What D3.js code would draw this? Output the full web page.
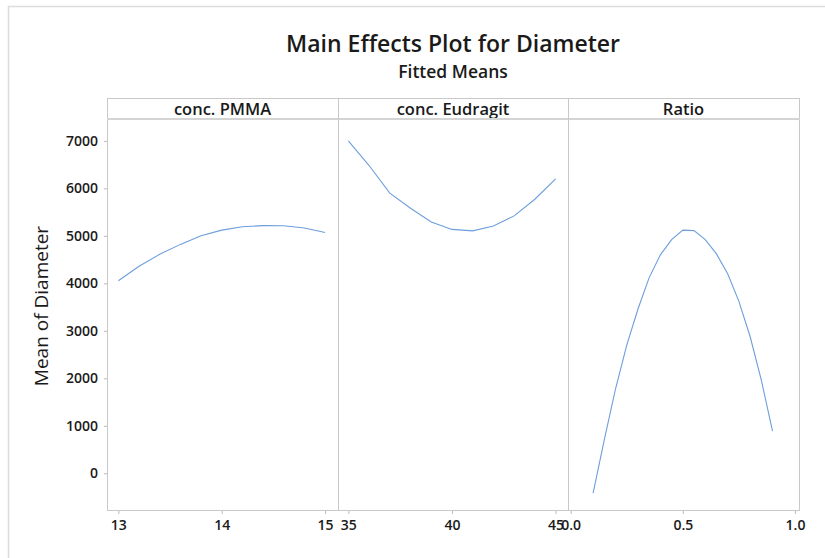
<!DOCTYPE html>
<html>
<head>
<meta charset="utf-8">
<script src="https://cdn.jsdelivr.net/npm/d3@7"></script>
<style>
  body { margin: 0; background: #fff; }
  text { font-family: "Open Sans", "Noto Sans", sans-serif; fill: #1a1a1a; }
</style>
</head>
<body>
<div id="chart"></div>
<script>
// factor names (one panel each)
const factors = ["conc. PMMA", "conc. Eudragit", "Ratio"];

// fitted means
const pmmaX = [13, 13.2, 13.4, 13.6, 13.8, 14, 14.2, 14.4, 14.6, 14.8, 15];
const pmmaY = [4055, 4360, 4610, 4820, 5000, 5120, 5190, 5215, 5213, 5165, 5070];

const eudX = [35, 36, 37, 38, 39, 40, 41, 42, 43, 44, 45];
const eudY = [7000, 6480, 5900, 5580, 5290, 5135, 5105, 5205, 5420, 5770, 6200];

const ratioX = [0.1, 0.15, 0.2, 0.25, 0.3, 0.35, 0.4, 0.45, 0.5, 0.55, 0.6, 0.65, 0.7, 0.75, 0.8, 0.85, 0.9];
const ratioY = [-420, 710, 1780, 2700, 3460, 4120, 4600, 4920, 5120, 5110, 4920, 4620, 4200, 3620, 2880, 1960, 890];

// tick labels
const yTicks = [0, 1000, 2000, 3000, 4000, 5000, 6000, 7000];
const pmmaTicks = [13, 14, 15];
const eudTicks = [35, 40, 45];
const ratioTicks = [0, 0.5, 1.0];

// set the dimensions of the graph
var W = 825, H = 558;
var left = 107, right = 799, stripTop = 98, plotTop = 119, plotBottom = 510;
var panelEdges = [107, 338, 568, 799];

const svg = d3.select("#chart")
.append("svg")
.attr("width", W)
.attr("height", H);

// outer frame
svg.append("path")
.attr("d", `M8.5,${H} V6.5 H${W}`)
.attr("fill", "none")
.attr("stroke", "#dcdcdc")
.attr("stroke-width", 1.5);

// titles
svg.append("text")
.attr("x", 453).attr("y", 52)
.attr("text-anchor", "middle")
.style("font-size", "23px").style("font-weight", 600)
.text("Main Effects Plot for Diameter");
svg.append("text")
.attr("x", 453).attr("y", 78)
.attr("text-anchor", "middle")
.style("font-size", "17.5px").style("font-weight", 600)
.text("Fitted Means");

// Y scale shared by all panels
const y = d3.scaleLinear()
.domain([-773, 7460])
.range([plotBottom, plotTop]);

svg.append("g")
.attr("transform", `translate(${left}, 0)`)
.call(d3.axisLeft(y).tickValues(yTicks).tickSize(3).tickPadding(6).tickFormat(d3.format("d")))
.call(g => g.select(".domain").remove())
.call(g => g.selectAll(".tick line").attr("stroke", "#bbb"))
.call(g => g.selectAll(".tick text").style("font-size", "14px").style("font-weight", 600).attr("fill", "#1a1a1a"));

// y axis title
svg.append("text")
.attr("transform", `translate(48, 306) rotate(-90)`)
.attr("text-anchor", "middle")
.style("font-size", "19px").style("font-weight", 500)
.text("Mean of Diameter");

const panels = [
  {xs: pmmaX, ys: pmmaY, ticks: pmmaTicks, domain: [12.89, 15.125], fmt: d3.format("d")},
  {xs: eudX, ys: eudY, ticks: eudTicks, domain: [34.5, 45.6], fmt: d3.format("d")},
  {xs: ratioX, ys: ratioY, ticks: ratioTicks, domain: [-0.012, 1.018], fmt: d3.format(".1f")}
];

panels.forEach(function (p, i) {
  const x0 = panelEdges[i], x1 = panelEdges[i + 1];

  // Add X axis
  const x = d3.scaleLinear()
  .domain(p.domain)
  .range([x0, x1]);

  svg.append("g")
  .attr("transform", `translate(0, ${plotBottom})`)
  .call(d3.axisBottom(x).tickValues(p.ticks).tickSize(4).tickPadding(6).tickFormat(p.fmt))
  .call(g => g.select(".domain").remove())
  .call(g => g.selectAll(".tick line").attr("stroke", "#bbb"))
  .call(g => g.selectAll(".tick text").style("font-size", "14px").style("font-weight", 600).attr("fill", "#1a1a1a"));

  // strip label
  svg.append("text")
  .attr("x", (x0 + x1) / 2).attr("y", 114.5)
  .attr("text-anchor", "middle")
  .style("font-size", "16.5px").style("font-weight", 600)
  .text(factors[i]);

  // fitted line
  const pts = p.xs.map((v, k) => [v, p.ys[k]]);
  svg.append("path")
  .datum(pts)
  .attr("fill", "none")
  .attr("stroke", "#6d9edb")
  .attr("stroke-width", 1.1)
  .attr("d", d3.line().x(d => x(d[0])).y(d => y(d[1])));
});

// panel borders and strip
svg.append("rect")
.attr("x", left + 0.5).attr("y", stripTop + 0.5)
.attr("width", right - left).attr("height", plotBottom - stripTop)
.attr("fill", "none").attr("stroke", "#c9c9c9");
svg.append("line")
.attr("x1", left).attr("x2", right + 1)
.attr("y1", plotTop).attr("y2", plotTop)
.attr("stroke", "#d4d4d4").attr("stroke-width", 2);
svg.selectAll(".divider")
.data(panelEdges.slice(1, 3))
.join("line")
.attr("x1", d => d + 0.5).attr("x2", d => d + 0.5)
.attr("y1", stripTop).attr("y2", plotBottom)
.attr("stroke", "#c9c9c9");
</script>
</body>
</html>
